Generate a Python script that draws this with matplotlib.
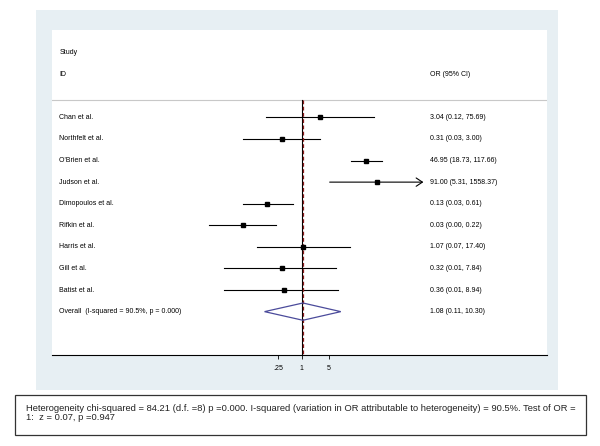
import numpy as np
import matplotlib.pyplot as plt
from matplotlib.patches import Rectangle, Polygon
from matplotlib import transforms

plt.rcParams['font.family'] = ['Liberation Sans', 'DejaVu Sans']

# data
studies = ['Chan et al.', 'Northfelt et al.', "O'Brien et al.", 'Judson et al.',
           'Dimopoulos et al.', 'Rifkin et al.', 'Harris et al.', 'Gill et al.', 'Batist et al.']
or_est = [3.04, 0.31, 46.95, 91.00, 0.13, 0.03, 1.07, 0.32, 0.36]
ci_low = [0.12, 0.03, 18.73, 5.31, 0.03, 0.004, 0.07, 0.01, 0.01]
ci_high = [75.69, 3.00, 117.66, 1558.37, 0.61, 0.22, 17.40, 7.84, 8.94]

overall_label = 'Overall  (I-squared = 90.5%, p = 0.000)'
overall_est = 1.08
overall_low = 0.11
overall_high = 10.30

tick_vals = [0.25, 1, 5]
tick_labels = ['.25', '1', '5']

footer = ('Heterogeneity chi-squared = 84.21 (d.f. =8) p =0.000. I-squared (variation in OR '
          'attributable to heterogeneity) = 90.5%. Test of OR =\n1:  z = 0.07, p =0.947')

# display range of the plot region (log scale), CIs beyond it get an arrow
x_range = (np.exp(-14.86), np.exp(14.61))
ci_clip = np.exp(7.25)

fig = plt.figure(figsize=(6, 4.46), dpi=100)
fig.patch.set_facecolor('white')

# graph region (light bluish gray)
fig.add_artist(Rectangle((0.06, 0.1256), 0.87, 0.852, transform=fig.transFigure,
                         facecolor='#e7eff3', edgecolor='none', zorder=0))

ax = fig.add_axes([0.0867, 0.204, 0.825, 0.7298])
ax.set_facecolor('white')
ax.set_xscale('log')
ax.set_xlim(*x_range)
ax.set_ylim(11.01, -4.07)

for s in ['top', 'left', 'right']:
    ax.spines[s].set_visible(False)
ax.spines['bottom'].set_linewidth(0.8)
ax.set_yticks([])
ax.set_xticks(tick_vals)
ax.set_xticklabels(tick_labels)
ax.xaxis.set_minor_locator(plt.NullLocator())
ax.tick_params(axis='x', direction='out', length=3, width=0.6, pad=4, labelsize=5)

trans = transforms.blended_transform_factory(ax.transAxes, ax.transData)
txt = dict(fontsize=5, color='black', va='center', transform=trans)

# header
ax.text(0.0147, -3, 'Study', ha='left', **txt)
ax.text(0.0147, -2, 'ID', ha='left', **txt)
ax.text(0.7636, -2, 'OR (95% CI)', ha='left', **txt)
ax.plot([0, 1], [-0.8, -0.8], color='#c8c8c8', lw=0.8, transform=trans)

# null line and overall line
ax.plot([1, 1], [-0.8, 11.01], color='black', lw=0.8, zorder=2)
ax.plot([overall_est, overall_est], [-0.8, 11.01], color='#8b1a1a', lw=0.9,
        ls=(0, (3, 2)), zorder=3)

y_pos = np.arange(len(studies))
for y, name, est, lo, hi in zip(y_pos, studies, or_est, ci_low, ci_high):
    if hi > ci_clip:
        ax.annotate('', xy=(ci_clip, y), xytext=(lo, y),
                    arrowprops=dict(arrowstyle='->,head_length=0.45,head_width=0.3',
                                    color='black', lw=0.8, shrinkA=0, shrinkB=0))
    else:
        ax.plot([lo, hi], [y, y], color='black', lw=0.8)
    ax.plot(est, y, marker='s', color='black', markersize=2.3, zorder=4)
    ax.text(0.0147, y, name, ha='left', **txt)
    ax.text(0.7636, y, '%.2f (%.2f, %.2f)' % (est, lo, hi), ha='left', **txt)

# overall diamond
yo = len(studies)
diamond = Polygon([(overall_low, yo), (overall_est, yo - 0.4), (overall_high, yo),
                   (overall_est, yo + 0.4)], closed=True, fill=False,
                  edgecolor='#4b4b9b', lw=0.9, zorder=4)
ax.add_patch(diamond)
ax.text(0.0147, yo, overall_label, ha='left', **txt)
ax.text(0.7636, yo, '%.2f (%.2f, %.2f)' % (overall_est, overall_low, overall_high),
        ha='left', **txt)

# footer box
fig.add_artist(Rectangle((0.025, 0.0247), 0.9517, 0.0897, transform=fig.transFigure,
                         facecolor='white', edgecolor='#333333', lw=0.9))
fig.text(0.0428, 0.074, footer, fontsize=6.75, color='#222222', ha='left', va='center',
         linespacing=1.12)

fig.savefig('out.png', dpi=100)
